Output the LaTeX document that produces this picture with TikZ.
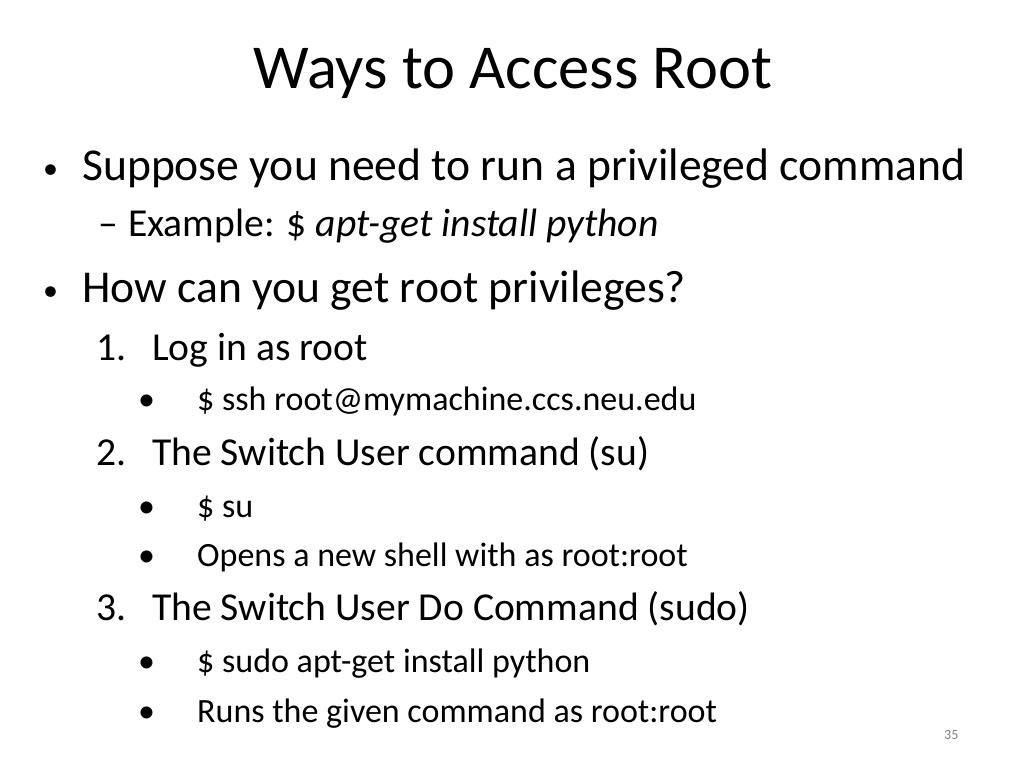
\documentclass[tikz,border=0pt]{standalone}
\usepackage{fontspec}
\setmainfont{Carlito}
\begin{document}
\begin{tikzpicture}[x=1pt,y=-1pt,
  t/.style={anchor=base west,inner sep=0pt},
  la/.style={t,font=\fontsize{45.6}{52}\selectfont},
  lb/.style={t,font=\fontsize{39.6}{46}\selectfont},
  lc/.style={t,font=\fontsize{34}{40}\selectfont},
  bul/.style={t,font=\fontsize{30}{34}\selectfont}]
\useasboundingbox (0,0) rectangle (1024,768);
\node[anchor=base,inner sep=0pt,font=\fontsize{62.5}{70}\selectfont] (title) at (513,88) {Ways to Access Root};
\node[bul] (b1) at (43,178) {•};
\node[la] (l1) at (82,180) {Suppose you need to run a privileged command};
\node[lb] (d1) at (98,236) {–};
\node[lb] (l2) at (128,236) {Example: \$ \textit{apt-get install python}};
\node[bul] (b2) at (43,300) {•};
\node[la] (l3) at (82,302) {How can you get root privileges?};
\node[lb] (n1) at (96,360) {1.};
\node[lb] (l4) at (152,360) {Log in as root};
\node[lc] (s1) at (138,410) {•};
\node[lc] (l5) at (197,410) {\$ ssh root@mymachine.ccs.neu.edu};
\node[lb] (n2) at (96,465) {2.};
\node[lb] (l6) at (152,465) {The Switch User command (su)};
\node[lc] (s2) at (138,517) {•};
\node[lc] (l7) at (197,517) {\$ su};
\node[lc] (s3) at (138,566) {•};
\node[lc] (l8) at (197,566) {Opens a new shell with as root:root};
\node[lb] (n3) at (96,620) {3.};
\node[lb] (l9) at (152,620) {The Switch User Do Command (sudo)};
\node[lc] (s4) at (138,672) {•};
\node[lc] (l10) at (197,672) {\$ sudo apt-get install python};
\node[lc] (s5) at (138,722) {•};
\node[lc] (l11) at (197,722) {Runs the given command as root:root};
\node[t,font=\fontsize{14}{16}\selectfont,text=gray] (pg) at (944,739) {35};
\end{tikzpicture}
\end{document}
